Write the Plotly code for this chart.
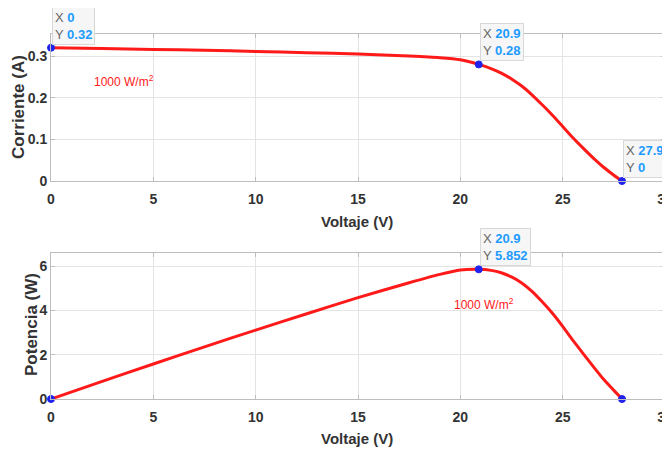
import plotly.graph_objects as go

# ---- data ----
voltage = [0, 2.5, 5, 7.5, 10, 12.5, 15, 17.5, 19, 20, 20.9, 21.5, 22, 22.5, 23,
           23.5, 24, 24.5, 25, 25.5, 26, 26.5, 27, 27.5, 27.9]
current = [0.320, 0.318, 0.316, 0.314, 0.311, 0.308, 0.305, 0.300, 0.296, 0.291,
           0.280, 0.270, 0.259, 0.245, 0.228, 0.207, 0.183, 0.158, 0.131, 0.104,
           0.079, 0.055, 0.033, 0.014, 0.0]
power = [0, 0.795, 1.58, 2.355, 3.11, 3.85, 4.575, 5.25, 5.624, 5.82, 5.852,
         5.805, 5.698, 5.51, 5.24, 4.86, 4.39, 3.87, 3.28, 2.65, 2.05, 1.46,
         0.89, 0.39, 0.0]

tip_v_iv = [0, 20.9, 27.9]
tip_i_iv = [0.32, 0.28, 0]
tip_labels_iv = [("0", "0.32"), ("20.9", "0.28"), ("27.9", "0")]

tip_v_pv = [0, 20.9, 27.9]
tip_p_pv = [0, 5.852, 0]
tip_labels_pv = [("20.9", "5.852")]

x_ticks = [0, 5, 10, 15, 20, 25, 30]
i_ticks = [0, 0.1, 0.2, 0.3]
i_ticktext = ["0", "0.1", "0.2", "0.3"]
p_ticks = [0, 2, 4, 6]

irr_label = "1000 W/m<sup>2</sup>"

# page body has an 8px margin: the figure fills the rest of the 670x452 window
OFF = 8
W, H = 670 - OFF, 452 - OFF


def px(x):
    return (x - OFF) / W


def py(y):
    return (H - (y - OFF)) / H


FONT = "Liberation Sans, Arial, sans-serif"
TXT = "#333333"
RED = "#ff1a1a"
BLUE = "#2222ee"
TIPBLUE = "#1e9bff"

fig = go.Figure()

fig.add_trace(go.Scatter(x=voltage, y=current, mode="lines",
                         line=dict(color=RED, width=3, shape="spline", smoothing=0.6),
                         xaxis="x", yaxis="y", hoverinfo="skip", cliponaxis=False))
fig.add_trace(go.Scatter(x=tip_v_iv, y=tip_i_iv, mode="markers",
                         marker=dict(color=BLUE, size=7, line=dict(color=BLUE, width=1)),
                         xaxis="x", yaxis="y", cliponaxis=False))

fig.add_trace(go.Scatter(x=voltage, y=power, mode="lines",
                         line=dict(color=RED, width=3, shape="spline", smoothing=0.6),
                         xaxis="x2", yaxis="y2", hoverinfo="skip", cliponaxis=False))
fig.add_trace(go.Scatter(x=tip_v_pv, y=tip_p_pv, mode="markers",
                         marker=dict(color=BLUE, size=7, line=dict(color=BLUE, width=1)),
                         xaxis="x2", yaxis="y2", cliponaxis=False))

axis_common = dict(
    automargin=False,
    showgrid=True, gridcolor="#e4e4e4", gridwidth=1,
    showline=True, linecolor="#bdbdbd", linewidth=1, mirror="ticks",
    ticks="inside", ticklen=4, tickcolor="#bdbdbd",
    zeroline=False, ticklabeloverflow="allow",
    tickfont=dict(family=FONT, size=14, color=TXT, weight="bold"),
)

x0, x1 = px(51), px(665)
fig.update_layout(
    template="none",
    width=W, height=H,
    margin=dict(l=0, r=0, t=0, b=0, autoexpand=False),
    paper_bgcolor="white", plot_bgcolor="white",
    showlegend=False,
    xaxis=dict(domain=[x0, x1], range=[0, 30], tickvals=x_ticks, anchor="y",
               ticklabelstandoff=5, **axis_common),
    yaxis=dict(domain=[py(181), py(34)], range=[0, 0.353],
               tickvals=i_ticks, ticktext=i_ticktext, anchor="x",
               ticklabelstandoff=0, **axis_common),
    xaxis2=dict(domain=[x0, x1], range=[0, 30], tickvals=x_ticks, anchor="y2",
                ticklabelstandoff=5, **axis_common),
    yaxis2=dict(domain=[py(399), py(253)], range=[0, 6.59],
                tickvals=p_ticks, anchor="x2", ticklabelstandoff=0, **axis_common),
)

ann = []
title_font = dict(family=FONT, size=15, color=TXT, weight="bold")
ytitle_font = dict(family=FONT, size=17, color=TXT, weight="bold")
# axis titles
ann.append(dict(text="Voltaje (V)", xref="paper", yref="paper",
                x=px(357), y=py(221), showarrow=False, font=title_font,
                xanchor="center", yanchor="middle"))
ann.append(dict(text="Voltaje (V)", xref="paper", yref="paper",
                x=px(357), y=py(438), showarrow=False, font=title_font,
                xanchor="center", yanchor="middle"))
ann.append(dict(text="Corriente (A)", xref="paper", yref="paper",
                x=px(18), y=py(107), showarrow=False, font=ytitle_font,
                textangle=-90, xanchor="center", yanchor="middle"))
ann.append(dict(text="Potencia (W)", xref="paper", yref="paper",
                x=px(32), y=py(325), showarrow=False, font=ytitle_font,
                textangle=-90, xanchor="center", yanchor="middle"))

# irradiance labels
ann.append(dict(text=irr_label, x=2.0, y=0.24, xref="x", yref="y", showarrow=False,
                xanchor="left", yanchor="middle",
                font=dict(family=FONT, size=12, color=RED)))
ann.append(dict(text=irr_label, x=19.6, y=4.28, xref="x2", yref="y2", showarrow=False,
                xanchor="left", yanchor="middle",
                font=dict(family=FONT, size=12, color=RED)))


def tip_text(xv, yv):
    return ("<span style='color:#666666'>X</span> <b style='color:%s'>%s</b><br>"
            "<span style='color:#666666'>Y</span> <b style='color:%s'>%s</b>"
            % (TIPBLUE, xv, TIPBLUE, yv))


tip_style = dict(showarrow=False, xanchor="left", yanchor="bottom", align="left",
                 bgcolor="rgba(246,246,246,0.95)", bordercolor="#d8d8d8", borderwidth=1,
                 borderpad=2, font=dict(family=FONT, size=13, color="#666666"))

for xv, yv, (tx, ty) in zip(tip_v_iv, tip_i_iv, tip_labels_iv):
    ann.append(dict(text=tip_text(tx, ty), x=xv, y=yv, xref="x", yref="y",
                    xshift=1, yshift=3, **tip_style))

ann.append(dict(text=tip_text(*tip_labels_pv[0]), x=tip_v_pv[1], y=tip_p_pv[1],
                xref="x2", yref="y2", xshift=1, yshift=3, **tip_style))

fig.update_layout(annotations=ann)

fig.write_html("out.html")
